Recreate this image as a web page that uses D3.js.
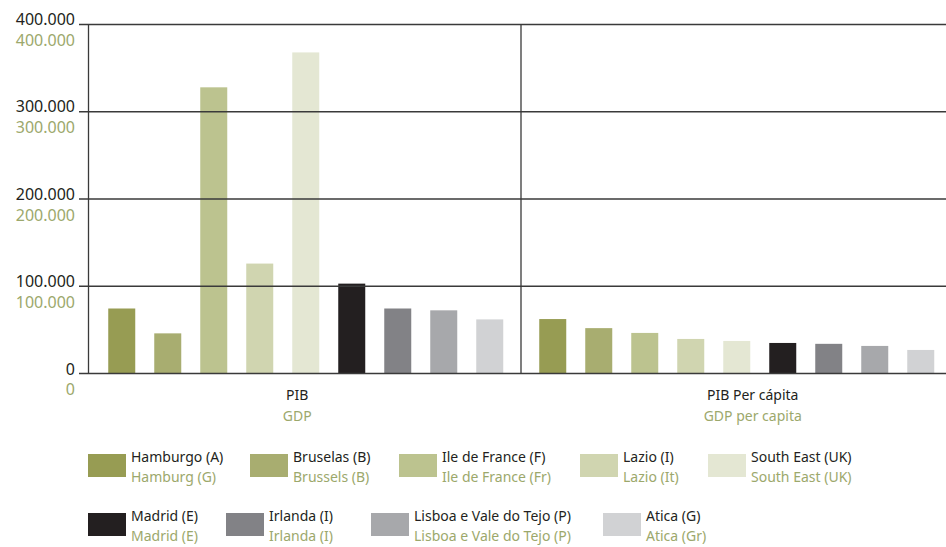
<!DOCTYPE html>
<html>
<head>
<meta charset="utf-8">
<script src="https://cdn.jsdelivr.net/npm/d3@7"></script>
<style>
  html, body { margin: 0; padding: 0; background: #fff; }
  svg { display: block; font-family: "Noto Sans", sans-serif; }
</style>
</head>
<body>
<svg id="chart" width="946" height="547"></svg>
<script>
// ---- data ----
const regionsPT = ["Hamburgo (A)", "Bruselas (B)", "Ile de France (F)", "Lazio (I)", "South East (UK)",
                   "Madrid (E)", "Irlanda (I)", "Lisboa e Vale do Tejo (P)", "Atica (G)"];
const regionsEN = ["Hamburg (G)", "Brussels (B)", "Ile de France (Fr)", "Lazio (It)", "South East (UK)",
                   "Madrid (E)", "Irlanda (I)", "Lisboa e Vale do Tejo (P)", "Atica (Gr)"];
const regionColors = ["#979c53", "#a8ad70", "#bcc38f", "#d0d5b0", "#e4e7d3",
                      "#231f20", "#828286", "#a7a8ab", "#d1d2d4"];
const groupsPT = ["PIB", "PIB Per cápita"];
const groupsEN = ["GDP", "GDP per capita"];
const gdpValues = [74500, 46000, 328000, 126000, 368000, 103000, 74500, 72400, 62000];
const gdpPerCapitaValues = [62400, 52000, 46500, 39600, 37300, 35000, 34000, 31600, 27000];
const yTicks = [0, 100000, 200000, 300000, 400000];

const seriesByGroup = [gdpValues, gdpPerCapitaValues];

// ---- layout ----
const svg = d3.select("#chart");
const black = "#231f20", green = "#9ca86c", lineCol = "#3a3a3a";
const plotLeft = 88.5, plotTop = 24.5, plotBottom = 373.5, plotRight = 946;

const y = d3.scaleLinear().domain([0, 400000]).range([plotBottom, plotTop]);
const x0 = d3.scaleBand().domain(groupsPT).range([plotLeft, plotLeft + 2 * 432.5]);
const x1 = d3.scaleBand().domain(regionsPT)
  .range([(x0.bandwidth() - 414) / 2 + 1, (x0.bandwidth() + 414) / 2 + 1])
  .paddingInner(0.413).paddingOuter(0.2065);

const fmt = d3.formatLocale({decimal: ",", thousands: ".", grouping: [3], currency: ["", "€"]}).format(",d");

// bars
const g = svg.append("g");
groupsPT.forEach((grp, gi) => {
  g.selectAll(null).data(seriesByGroup[gi]).join("rect")
    .attr("x", (d, i) => x0(grp) + x1(regionsPT[i]) - (gi === 1 ? 1.5 : 0))
    .attr("width", x1.bandwidth())
    .attr("y", d => y(d))
    .attr("height", d => y(0) - y(d))
    .attr("fill", (d, i) => regionColors[i]);
});

// grid lines
svg.append("g").selectAll("line").data(yTicks).join("line")
  .attr("x1", 79).attr("x2", plotRight)
  .attr("y1", d => y(d)).attr("y2", d => y(d))
  .attr("stroke", lineCol).attr("stroke-width", 1.3);

// vertical axis and divider
svg.append("line").attr("x1", plotLeft).attr("x2", plotLeft).attr("y1", plotTop).attr("y2", plotBottom)
  .attr("stroke", lineCol).attr("stroke-width", 1.3);
svg.append("line").attr("x1", x0(groupsPT[1])).attr("x2", x0(groupsPT[1])).attr("y1", plotTop).attr("y2", plotBottom)
  .attr("stroke", lineCol).attr("stroke-width", 1.3);

// tick labels
const tl = svg.append("g").attr("font-size", 16).attr("text-anchor", "end");
tl.selectAll("text.b").data(yTicks).join("text").attr("class", "b")
  .attr("x", 75).attr("y", d => y(d) + (d === 0 ? 1.5 : 0.5)).attr("fill", black).text(d => fmt(d));
tl.selectAll("text.g").data(yTicks).join("text").attr("class", "g")
  .attr("x", 75).attr("y", d => y(d) + 21.5).attr("fill", green).text(d => fmt(d));

// group labels
const labelNudge = [-7.5, 15.5];
const gl = svg.append("g").attr("font-size", 14).attr("text-anchor", "middle");
groupsPT.forEach((grp, gi) => {
  const cx = x0(grp) + x0.bandwidth() / 2 + labelNudge[gi];
  gl.append("text").attr("x", cx).attr("y", 400).attr("fill", black).text(grp);
  gl.append("text").attr("x", cx).attr("y", 420.5).attr("fill", green).text(groupsEN[gi]);
});

// legend (layout positions)
const rows = [[0, 1, 2, 3, 4], [5, 6, 7, 8]];
const rowX = [[88, 250, 399, 580, 708], [88, 226, 371, 603]];
const rowY = [454, 513];
const leg = svg.append("g").attr("font-size", 14);
rows.forEach((row, ri) => {
  row.forEach((i, k) => {
    const it = leg.append("g").attr("transform", `translate(${rowX[ri][k]},${rowY[ri]})`);
    it.append("rect").attr("width", 38).attr("height", 23).attr("fill", regionColors[i]);
    it.append("text").attr("x", 43).attr("y", 7.5).attr("fill", black).text(regionsPT[i]);
    it.append("text").attr("x", 43).attr("y", 28.3).attr("fill", green).text(regionsEN[i]);
  });
});
</script>
</body>
</html>
